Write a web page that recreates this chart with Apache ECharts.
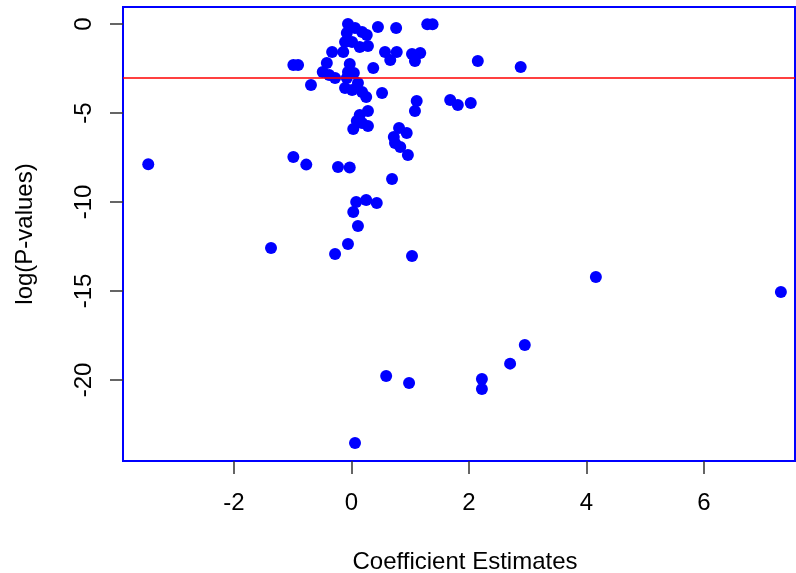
<!DOCTYPE html>
<html>
<head>
<meta charset="utf-8">
<script src="https://cdn.jsdelivr.net/npm/echarts@6/dist/echarts.min.js"></script>
<style>
  html, body { margin: 0; padding: 0; background: #fff; }
  #chart { width: 796px; height: 573px; }
</style>
</head>
<body>
<div id="chart"></div>
<script>
// coefficient estimates (x) and log p-values (y)
var coef = [
  -0.06, 0.06, 0.18, 0.26, 0.45, 0.76, 1.29, 1.38, -0.08, -0.11,
  0.01, 0.14, 0.28, -0.33, -0.14, 0.57, 0.77, 0.66, 1.03, 1.17,
  1.08, -0.99, -0.91, -0.42, -0.49, -0.38, -0.28, -0.03, -0.06, 0.04,
  -0.08, 0.37, -0.69, -0.11, 0.01, 0.11, 0.18, 0.25, 0.52, 1.11,
  1.08, 1.68, 1.81, 2.03, 2.15, 2.88,
  0.28, 0.14, 0.09, 0.03, 0.18, 0.28, 0.81, 0.94, 0.72, 0.74,
  0.83, 0.96, 0.69, -0.99, -0.77, -0.23, -0.03, -3.46,
  0.08, 0.25, 0.43, 0.03, 0.11, -0.06, -0.28, -1.37, 1.03, 4.16,
  7.31, 2.95, 2.70, 2.22, 2.22, 0.59, 0.98, 0.06
];
var logP = [
  0, -0.22, -0.45, -0.62, -0.17, -0.22, -0.02, -0.02, -0.51, -1.01,
  -1.01, -1.29, -1.24, -1.57, -1.57, -1.57, -1.57, -2.02, -1.69, -1.63,
  -2.08, -2.30, -2.30, -2.19, -2.70, -2.87, -3.03, -2.25, -2.70, -2.75,
  -3.03, -2.47, -3.43, -3.60, -3.71, -3.31, -3.82, -4.10, -3.88, -4.33,
  -4.89, -4.27, -4.55, -4.44, -2.08, -2.42,
  -4.89, -5.11, -5.45, -5.90, -5.56, -5.73, -5.84, -6.12, -6.35, -6.69,
  -6.91, -7.36, -8.71, -7.47, -7.90, -8.03, -8.06, -7.88,
  -10.0, -9.89, -10.06, -10.56, -11.35, -12.36, -12.92, -12.58, -13.03, -14.21,
  -15.06, -18.03, -19.08, -19.94, -20.51, -19.78, -20.17, -23.54
];
var xTicks = [-2, 0, 2, 4, 6];
var yTicks = [-20, -15, -10, -5, 0];
var cutoff = -3;

var points = coef.map(function (x, i) { return [x, logP[i]]; });

var myChart = echarts.init(document.getElementById('chart'));

var font = 'Liberation Sans, Arial, Helvetica, sans-serif';

var option = {
  backgroundColor: '#fff',
  animation: false,
  grid: {
    show: true,
    left: 123, right: 1, top: 7, bottom: 112,
    outerBoundsMode: 'none',
    containLabel: false,
    borderColor: '#0000ff',
    borderWidth: 2,
    backgroundColor: '#fff'
  },
  xAxis: {
    type: 'value',
    min: -3.89,
    max: 7.55,
    name: 'Coefficient Estimates',
    nameLocation: 'middle',
    nameGap: 89,
    // the R plot region runs a little past the right edge, so the title sits right of centre
    nameTextStyle: { fontFamily: font, fontSize: 24, color: '#000', padding: [0, 0, 0, 12] },
    splitLine: { show: false },
    axisLine: { show: false, onZero: false },
    axisTick: { show: true, length: 13, customValues: xTicks, lineStyle: { color: '#333', width: 1.5 } },
    axisLabel: { customValues: xTicks, margin: 30, fontFamily: font, fontSize: 24, color: '#000' }
  },
  yAxis: {
    type: 'value',
    min: -24.55,
    max: 0.955,
    name: 'log(P-values)',
    nameLocation: 'middle',
    nameGap: 86,
    nameTextStyle: { fontFamily: font, fontSize: 24, color: '#000' },
    splitLine: { show: false },
    axisLine: { show: false, onZero: false },
    axisTick: { show: true, length: 13, customValues: yTicks, lineStyle: { color: '#333', width: 1.5 } },
    axisLabel: { customValues: yTicks, rotate: 90, margin: 27, fontFamily: font, fontSize: 24, color: '#000' }
  },
  series: [
    {
      type: 'scatter',
      data: points,
      symbol: 'circle',
      symbolSize: 12,
      itemStyle: { color: '#0000ff', opacity: 1 },
      markLine: {
        silent: true,
        symbol: 'none',
        label: { show: false },
        lineStyle: { color: '#ff0000', width: 1.5, type: 'solid' },
        data: [{ yAxis: cutoff }]
      },
      z: 3
    }
  ]
};

myChart.setOption(option);
</script>
</body>
</html>
